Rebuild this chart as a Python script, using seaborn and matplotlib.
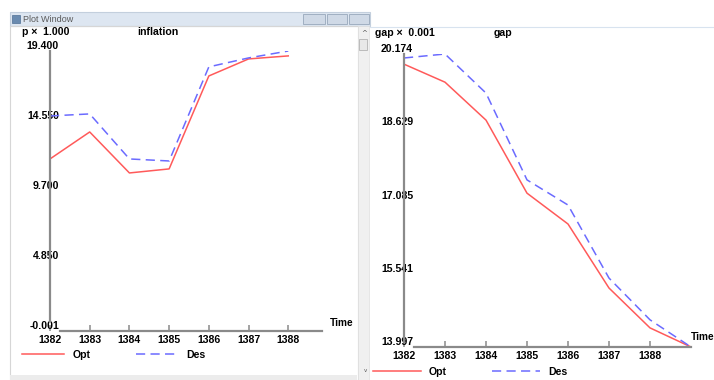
"""
plot.py

Optimal vs desired paths for inflation and output gap, drawn in the
style of an old 'Plot Window' screenshot.
"""

import pandas as pd
import matplotlib.pyplot as plt
import seaborn as sns
from matplotlib.patches import Rectangle

# Figure settings
FIG_W, FIG_H, FIG_DPI = 714, 380, 100
RED = "#ff5a5a"
BLUE = "#6b6bff"
AXIS_GREY = "#8a8a8a"
FONT = ["Liberation Sans", "DejaVu Sans"]
TICK_FONTSIZE = 7.6

# Data: inflation panel
infl_years = [1382, 1383, 1384, 1385, 1386, 1387, 1388]
infl_opt = [11.92, 13.79, 10.95, 11.23, 17.67, 18.85, 19.06]
infl_des = [14.90, 15.04, 11.92, 11.78, 18.30, 18.92, 19.40]
infl_ticks = [-0.001, 4.850, 9.700, 14.550, 19.400]

# Data: gap panel (last point 1389 is drawn but not labelled)
gap_years = [1382, 1383, 1384, 1385, 1386, 1387, 1388, 1389]
gap_opt = [19.96, 19.58, 18.78, 17.24, 16.59, 15.24, 14.40, 13.997]
gap_des = [20.09, 20.174, 19.35, 17.52, 16.99, 15.45, 14.57, 13.997]
gap_ticks = [13.997, 15.541, 17.085, 18.629, 20.174]

year_labels = [1382, 1383, 1384, 1385, 1386, 1387, 1388]


def fx(px):
    return px / FIG_W


def fy(py):
    return 1 - py / FIG_H


def box(fig, x0, y0, x1, y1, **kw):
    """Rectangle given in pixel coords (top-left origin)."""
    fig.patches.append(
        Rectangle((fx(x0), fy(y1)), fx(x1) - fx(x0), fy(y0) - fy(y1),
                  transform=fig.transFigure, **kw)
    )


def draw_panel(fig, rect_px, years, opt, des, yticks, xlim, xspine, yspine,
               time_xy, legend_px):
    x0, y0, x1, y1 = rect_px
    ax = fig.add_axes([fx(x0), fy(y1), fx(x1) - fx(x0), fy(y0) - fy(y1)])
    ax.set_facecolor("none")

    df = pd.DataFrame({
        "Time": years + years,
        "value": opt + des,
        "series": ["Opt"] * len(years) + ["Des"] * len(years),
    })
    sns.lineplot(
        data=df, x="Time", y="value", hue="series", style="series",
        palette={"Opt": RED, "Des": BLUE},
        dashes={"Opt": "", "Des": (6, 3.5)},
        linewidth=1.1, ax=ax,
    )

    ax.set_xlim(*xlim)
    ax.set_ylim(yticks[0], yticks[-1])
    ax.set_xlabel("")
    ax.set_ylabel("")

    # Axes look
    for side in ["top", "right"]:
        ax.spines[side].set_visible(False)
    for side in ["left", "bottom"]:
        ax.spines[side].set_color(AXIS_GREY)
        ax.spines[side].set_linewidth(1.6)
    ax.spines["bottom"].set_bounds(*xspine)
    ax.spines["left"].set_bounds(*yspine)

    ax.set_xticks(year_labels, labels=[str(y) for y in year_labels])
    ax.set_yticks(yticks, labels=[f"{t:.3f}" for t in yticks])
    ax.tick_params(axis="x", direction="in", length=4.5, width=1.1,
                   color=AXIS_GREY, pad=3, labelsize=TICK_FONTSIZE)
    ax.tick_params(axis="y", length=0, pad=-6.5, labelsize=TICK_FONTSIZE)
    for lbl in ax.get_xticklabels() + ax.get_yticklabels():
        lbl.set_fontfamily(FONT)
        lbl.set_fontweight("bold")
    for lbl in ax.get_yticklabels():
        lbl.set_verticalalignment("bottom")

    ax.text(time_xy[0], time_xy[1], "Time", transform=ax.transAxes,
            ha="left", va="center", fontsize=TICK_FONTSIZE - 0.3, family=FONT,
            fontweight="bold", clip_on=False)

    # Legend below the axis
    handles, labels = ax.get_legend_handles_labels()
    ax.legend(
        handles, labels, ncol=2, frameon=False,
        loc="center left", bbox_to_anchor=(fx(legend_px[0]), fy(legend_px[1])),
        bbox_transform=fig.transFigure, borderpad=0, borderaxespad=0,
        handlelength=legend_px[2], handletextpad=0.8, columnspacing=4.3,
        prop={"family": FONT, "weight": "bold", "size": TICK_FONTSIZE},
    )
    return ax


def main():
    fig = plt.figure(figsize=(FIG_W / FIG_DPI, FIG_H / FIG_DPI), dpi=FIG_DPI)
    fig.patch.set_facecolor("white")

    # Window chrome of the left screenshot
    box(fig, 10, 12, 370, 26, facecolor="#dde6f1", edgecolor="#c3cfdd", lw=0.8)
    box(fig, 12, 15, 20, 23, facecolor="#6a8bb0", edgecolor="#4f6f94", lw=0.5)
    fig.text(fx(23), fy(19), "Plot Window", ha="left", va="center",
             fontsize=6.5, color="#5a5a5a", family=FONT)
    for bx0, bx1 in [(303, 325), (327, 347), (349, 369)]:
        box(fig, bx0, 14, bx1, 24, facecolor="#cfd9e6", edgecolor="#98a8bb",
            lw=0.6)
    box(fig, 10, 26, 358, 380, facecolor="none", edgecolor="#d6d6d6", lw=0.8)
    box(fig, 358, 26, 369, 380, facecolor="#f0f0f0", edgecolor="#e0e0e0",
        lw=0.5)
    box(fig, 359, 39, 367, 50, facecolor="#e8e8e8", edgecolor="#b4b4b4",
        lw=0.6)
    box(fig, 10, 375, 357, 380, facecolor="#ececec", edgecolor="none")
    fig.add_artist(plt.Line2D([fx(370), fx(714)], [fy(27), fy(27)],
                              color="#d8e3ef", lw=0.8))
    fig.text(fx(364), fy(33), "^", ha="center", va="center", fontsize=5,
             color="#555555")
    fig.text(fx(365), fy(370), "v", ha="center", va="center", fontsize=4,
             color="#555555")

    # Panel headers
    head = dict(ha="left", va="center", fontsize=TICK_FONTSIZE, family=FONT,
                fontweight="bold")
    fig.text(fx(22), fy(32), "p \u00d7  1.000", **head)
    fig.text(fx(137), fy(32), "inflation", **head)
    fig.text(fx(375), fy(33), "gap \u00d7  0.001", **head)
    fig.text(fx(494), fy(33), "gap", **head)

    # Inflation panel
    draw_panel(
        fig, (50, 51, 322, 331), infl_years, infl_opt, infl_des, infl_ticks,
        xlim=(1382, 1388.85), xspine=(1382.25, 1388.85), yspine=(0.7, 19.4),
        time_xy=(1.03, 0.03), legend_px=(22, 355, 4.0),
    )

    # Gap panel
    draw_panel(
        fig, (404, 54, 691, 347), gap_years, gap_opt, gap_des, gap_ticks,
        xlim=(1382, 1389), xspine=(1382.25, 1389), yspine=(14.1, 20.174),
        time_xy=(1.0, 0.034), legend_px=(373, 372, 4.5),
    )

    fig.savefig("out.png", dpi=FIG_DPI)


if __name__ == "__main__":
    main()
